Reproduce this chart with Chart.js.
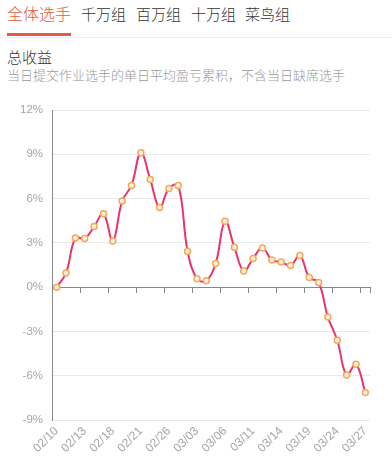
<!DOCTYPE html>
<html><head><meta charset="utf-8">
<script src="https://cdn.jsdelivr.net/npm/chart.js@4"></script>
<style>
html,body{margin:0;padding:0;background:#fff;width:392px;height:458px;overflow:hidden;font-family:"Liberation Sans","Noto Sans CJK SC",sans-serif;}
.tab{position:absolute;top:4px;font-family:"Noto Sans CJK SC",sans-serif;font-weight:300;font-size:15px;color:#333;line-height:20px;}
.tab.active{color:#e5593f;font-size:16px;}
#ul{position:absolute;left:7px;top:33px;width:64px;height:3px;background:#e5593f;}
#sep{position:absolute;left:0;top:37px;width:392px;height:1px;background:#f0f0f0;}
#title{position:absolute;left:7px;top:47px;font-family:"Noto Sans CJK SC",sans-serif;font-weight:300;font-size:15px;color:#333;line-height:20px;}
#sub{position:absolute;left:7px;top:66px;font-family:"Noto Sans CJK SC",sans-serif;font-weight:300;font-size:13px;color:#999;line-height:18px;white-space:nowrap;}
#wrap{position:absolute;left:0;top:90px;width:392px;height:368px;}
</style></head>
<body>
<div class="tab active" style="left:7px;top:3px">全体选手</div>
<div class="tab" style="left:81px">千万组</div>
<div class="tab" style="left:136px">百万组</div>
<div class="tab" style="left:191px">十万组</div>
<div class="tab" style="left:245px">菜鸟组</div>
<div id="ul"></div>
<div id="sep"></div>
<div id="title">总收益</div>
<div id="sub">当日提交作业选手的单日平均盈亏累积，不含当日缺席选手</div>
<div id="wrap"><canvas id="c" width="392" height="368"></canvas></div>
<script>
const categories = ['02/10','02/11','02/12','02/13','02/14','02/17','02/18','02/19','02/20','02/21','02/24','02/25','02/26','02/27','02/28','03/03','03/04','03/05','03/06','03/07','03/10','03/11','03/12','03/13','03/14','03/17','03/18','03/19','03/20','03/21','03/24','03/25','03/26','03/27'];
const totalReturn = [0,0.95,3.33,3.29,4.10,4.98,3.13,5.83,6.89,9.10,7.30,5.39,6.69,6.89,2.43,0.57,0.43,1.60,4.46,2.70,1.10,1.94,2.66,1.84,1.71,1.47,2.14,0.66,0.32,-2.03,-3.60,-5.95,-5.22,-7.14];
const yTicks = [-9,-6,-3,0,3,6,9,12];
const labelEvery = 3;

const yFont = {family:'"Liberation Sans", Arial, sans-serif', size:11.5};
const xFont = {family:'"Liberation Sans", Arial, sans-serif', size:12};
new Chart(document.getElementById('c'), {
  type:'line',
  data:{labels:categories, datasets:[{
    data:totalReturn,
    borderColor:'#e8336b', borderWidth:2, tension:0.4,
    pointRadius:3, pointBorderWidth:1.5, pointBorderColor:'#f6a75c', pointBackgroundColor:'#fff0dc',
    xAxisID:'x', yAxisID:'y'
  }]},
  options:{
    responsive:false, animation:false,
    plugins:{legend:{display:false}, tooltip:{enabled:false}},
    layout:{padding:{left:0,right:22,top:20,bottom:0}},
    scales:{
      x:{
        type:'category', position:'bottom', offset:true,
        grid:{display:false, drawTicks:false, offset:true},
        border:{display:false},
        ticks:{autoSkip:false, maxRotation:45, minRotation:45, padding:4, color:'#a6a6a6', font:xFont,
          callback:(v,i)=> i%labelEvery===0 ? categories[i] : ''},
        afterFit:(s)=>{s.height=38;}
      },
      x2:{
        type:'category', position:{y:0}, offset:true,
        grid:{display:true, drawOnChartArea:false, drawTicks:true, tickLength:5, offset:true,
          tickColor:(ctx)=> (ctx.index===undefined || ctx.index%labelEvery===0) ? '#888' : 'rgba(0,0,0,0)'},
        border:{display:true, color:'#888', width:1},
        ticks:{display:false}
      },
      y:{
        min:-9, max:12,
        afterBuildTicks:(s)=>{s.ticks = yTicks.map(v=>({value:v}));},
        grid:{drawTicks:false, color:(ctx)=> ctx.tick && ctx.tick.value===0 ? '#888' : '#e9e9e9'},
        border:{display:true, color:'#888', width:1},
        ticks:{padding:9, color:'#a6a6a6', font:yFont, callback:(v)=> v+'%'},
        afterFit:(s)=>{s.width=52;}
      }
    }
  }
});
</script>
</body></html>
